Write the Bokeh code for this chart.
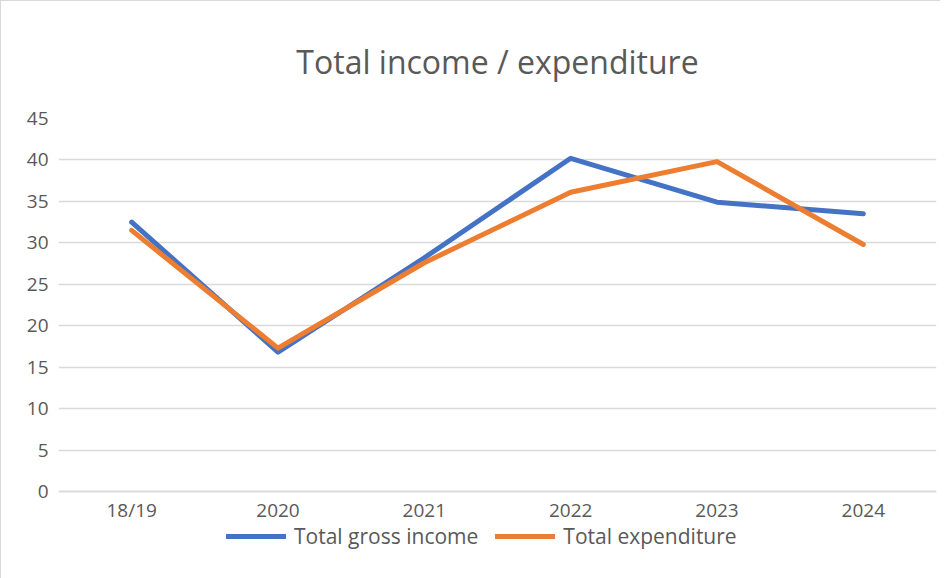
from bokeh.plotting import figure
from bokeh.models import FactorRange, Range1d, FixedTicker, Legend, LegendItem
from bokeh.embed import file_html
from bokeh.resources import INLINE

categories = ["18/19", "2020", "2021", "2022", "2023", "2024"]
gross_income = [32.5, 16.8, 28.2, 40.2, 34.9, 33.5]
expenditure = [31.5, 17.3, 27.6, 36.1, 39.8, 29.8]
y_ticks = [0, 5, 10, 15, 20, 25, 30, 35, 40, 45]

FONT = "Open Sans"
TXT = "#595959"
GRID = "#d9d9d9"

# frame extends below zero so the legend can sit under the category labels
p = figure(frame_width=878, frame_height=434, output_backend="svg", toolbar_location=None,
           x_range=FactorRange(factors=categories, range_padding=0),
           y_range=Range1d(-7.36, 45),
           min_border_left=57, min_border_right=4, min_border_top=112, min_border_bottom=32)

p.title.text = "Total income / expenditure"
p.title.align = "center"
p.title.text_font = FONT
p.title.text_font_size = "32px"
p.title.text_font_style = "normal"
p.title.text_color = TXT
p.title.standoff = 72

p.outline_line_color = None
p.background_fill_color = "white"
p.border_fill_color = "white"
p.styles = {"border-top": "1px solid #d9d9d9", "border-left": "1px solid #d9d9d9"}

p.xgrid.grid_line_color = None
p.ygrid.grid_line_color = GRID
p.ygrid.grid_line_width = 1.5

p.yaxis.ticker = FixedTicker(ticks=y_ticks)
p.yaxis.axis_line_color = None
p.yaxis.major_tick_line_color = None
p.yaxis.minor_tick_line_color = None
p.yaxis.major_tick_out = 0
p.yaxis.major_label_text_font = FONT
p.yaxis.major_label_text_font_size = "19px"
p.yaxis.major_label_text_color = TXT
p.yaxis.major_label_standoff = 10

p.xaxis.fixed_location = 0
p.xaxis.axis_line_color = GRID
p.xaxis.axis_line_width = 1.5
p.xaxis.major_tick_line_color = None
p.xaxis.minor_tick_line_color = None
p.xaxis.major_tick_out = 0
p.xaxis.major_label_text_font = FONT
p.xaxis.major_label_text_font_size = "19px"
p.xaxis.major_label_text_color = TXT
p.xaxis.major_label_standoff = 6

r1 = p.line(categories, gross_income, line_color="#4472C4", line_width=5,
            line_cap="round", line_join="round")
r2 = p.line(categories, expenditure, line_color="#ED7D31", line_width=5,
            line_cap="round", line_join="round")

legend = Legend(items=[LegendItem(label="Total gross income", renderers=[r1]),
                       LegendItem(label="Total expenditure", renderers=[r2])],
                orientation="horizontal", location=(168, 2))
legend.border_line_color = None
legend.background_fill_alpha = 0
legend.padding = 0
legend.margin = 0
legend.spacing = 17
legend.glyph_width = 60
legend.glyph_height = 26
legend.label_height = 26
legend.label_standoff = 8
legend.label_text_font = FONT
legend.label_text_font_size = "21px"
legend.label_text_color = TXT
p.add_layout(legend, "center")

open("out.html", "w").write(file_html(p, INLINE))
